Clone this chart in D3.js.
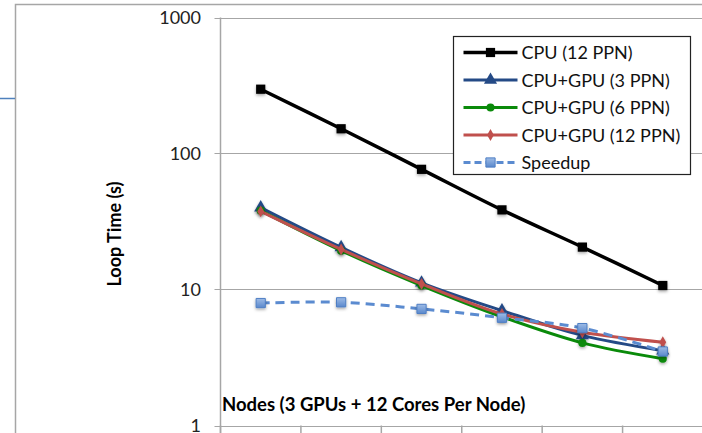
<!DOCTYPE html>
<html>
<head>
<meta charset="utf-8">
<script src="https://cdn.jsdelivr.net/npm/d3@7"></script>
<style>
  body { margin: 0; background: #fff; }
  svg { display: block; font-family: Lato, "Open Sans", sans-serif; }
</style>
</head>
<body>
<svg id="chart" width="702" height="433"></svg>
<script>
// --------------------------------------
// data
const nodes = ["1", "2", "4", "8", "16", "32"];
const cpu12 = [297, 152, 76.5, 38.5, 20.5, 10.7];
const gpu3 = [40, 20.4, 11.2, 7.0, 4.6, 3.55];
const gpu6 = [38, 19.3, 10.7, 6.3, 4.05, 3.1];
const gpu12 = [37.5, 19.7, 11.0, 6.6, 4.85, 4.1];
const speedup = [7.95, 8.05, 7.2, 6.2, 5.2, 3.5];
const yTicks = [1, 10, 100, 1000];
const seriesNames = ["CPU (12 PPN)", "CPU+GPU (3 PPN)", "CPU+GPU (6 PPN)", "CPU+GPU (12 PPN)", "Speedup"];
// --------------------------------------

const svg = d3.select("#chart");
const plotLeft = 220.5, plotTop = 17.5, plotRight = 703, plotBottom = 425.5;

// outer frame bits
svg.append("rect")
  .attr("x", 15.5).attr("y", 4.5)
  .attr("width", 720).attr("height", 460)
  .attr("fill", "none").attr("stroke", "#a6a6a6").attr("stroke-width", 1.5);
svg.append("line")
  .attr("x1", 0).attr("x2", 15).attr("y1", 98.5).attr("y2", 98.5)
  .attr("stroke", "#4f81bd").attr("stroke-width", 1.5);

// scales
const x = d3.scaleBand().domain(nodes).range([plotLeft, plotRight]);
const y = d3.scaleLog().domain([1, 1000]).range([plotBottom, plotTop]);
const cx = (d, i) => x(nodes[i]) + x.bandwidth() / 2;

// shadow for the markers
const defs = svg.append("defs");
const f = defs.append("filter").attr("id", "shadow")
  .attr("x", "-50%").attr("y", "-50%").attr("width", "200%").attr("height", "200%");
f.append("feDropShadow").attr("dx", 0).attr("dy", 1.5).attr("stdDeviation", 1.5)
  .attr("flood-color", "#000").attr("flood-opacity", 0.35);
const grad = defs.append("linearGradient").attr("id", "sqgrad")
  .attr("x1", 0).attr("y1", 0).attr("x2", 0).attr("y2", 1);
grad.append("stop").attr("offset", "0%").attr("stop-color", "#9dbbe6");
grad.append("stop").attr("offset", "100%").attr("stop-color", "#5a88cc");

// gridlines
const g = svg.append("g");
g.selectAll(".grid").data(yTicks).enter().append("line")
  .attr("x1", plotLeft - 6).attr("x2", 702)
  .attr("y1", (d) => Math.round(y(d)) + 0.5).attr("y2", (d) => Math.round(y(d)) + 0.5)
  .attr("stroke", "#a6a6a6").attr("stroke-width", 1.2);

// y axis line
g.append("line")
  .attr("x1", plotLeft).attr("x2", plotLeft).attr("y1", plotTop).attr("y2", 433)
  .attr("stroke", "#a6a6a6").attr("stroke-width", 1.5);

// x tick marks at category boundaries
g.selectAll(".xt").data(nodes).enter().append("line")
  .attr("x1", (d) => x(d)).attr("x2", (d) => x(d))
  .attr("y1", plotBottom).attr("y2", 433)
  .attr("stroke", "#a6a6a6").attr("stroke-width", 1.5);

// y tick labels
g.selectAll(".yl").data(yTicks).enter().append("text")
  .attr("x", 201).attr("y", (d) => y(d) + 6.5)
  .attr("text-anchor", "end")
  .style("font-size", "18px").attr("fill", "#222")
  .text((d) => d);

// axis titles
svg.append("text")
  .attr("text-anchor", "middle")
  .attr("transform", "translate(121,234)rotate(-90)")
  .style("font-size", "18px").style("font-weight", "bold")
  .text("Loop Time (s)");
svg.append("text")
  .attr("x", 222).attr("y", 411)
  .style("font-size", "18.5px").style("font-weight", "bold")
  .text("Nodes (3 GPUs + 12 Cores Per Node)");

// series setup
const series = [
  { name: seriesNames[0], values: cpu12, color: "#000000", width: 3.5, marker: "square", size: 10, fill: "#000" },
  { name: seriesNames[1], values: gpu3, color: "#244a86", width: 3, marker: "triangle", size: 10, fill: "#244a86" },
  { name: seriesNames[2], values: gpu6, color: "#0a8a0a", width: 3, marker: "circle", size: 8, fill: "#0a8a0a" },
  { name: seriesNames[3], values: gpu12, color: "#c0504d", width: 3, marker: "diamond", size: 9, fill: "#c0504d" },
  { name: seriesNames[4], values: speedup, color: "#5b8bd0", width: 3, marker: "square", size: 10, fill: "url(#sqgrad)", dash: "9,6" },
];

const symType = {
  square: d3.symbolSquare,
  triangle: d3.symbolTriangle,
  circle: d3.symbolCircle,
  diamond: d3.symbolDiamond,
};
const areaFactor = { square: 0.85, triangle: 0.75, circle: 0.8, diamond: 0.5 };

function drawMarker(sel, s) {
  sel.attr("d", d3.symbol().type(symType[s.marker]).size(s.size * s.size * areaFactor[s.marker]))
    .attr("fill", s.fill)
    .attr("stroke", s.dash ? "#4f7fc4" : "none")
    .attr("stroke-width", 1);
}

const line = d3.line()
  .x((d, i) => cx(d, i))
  .y((d) => y(d))
  .curve(d3.curveCatmullRom.alpha(0.5));

series.forEach((s) => {
  const sg = svg.append("g");
  sg.append("path")
    .datum(s.values)
    .attr("d", line)
    .attr("fill", "none")
    .attr("stroke", s.color)
    .attr("stroke-width", s.width)
    .attr("stroke-dasharray", s.dash || null);
  sg.selectAll("path.m").data(s.values).enter().append("path")
    .attr("class", "m")
    .attr("transform", (d, i) => "translate(" + cx(d, i) + "," + y(d) + ")")
    .attr("filter", "url(#shadow)")
    .call(drawMarker, s);
});

// legend
const lg = svg.append("g").attr("transform", "translate(453.5,36.5)");
lg.append("rect").attr("width", 237).attr("height", 138)
  .attr("fill", "#fff").attr("stroke", "#222").attr("stroke-width", 1.2);
series.forEach((s, i) => {
  const ry = 16 + i * 27.5;
  lg.append("line")
    .attr("x1", 10).attr("x2", 64).attr("y1", ry).attr("y2", ry)
    .attr("stroke", s.color).attr("stroke-width", s.width)
    .attr("stroke-dasharray", s.dash ? "7,4" : null);
  lg.append("path")
    .attr("transform", "translate(37," + ry + ")")
    .call(drawMarker, s);
  lg.append("text")
    .attr("x", 68).attr("y", ry + 6.5)
    .style("font-size", "18px").attr("fill", "#111")
    .text(s.name);
});
</script>
</body>
</html>
